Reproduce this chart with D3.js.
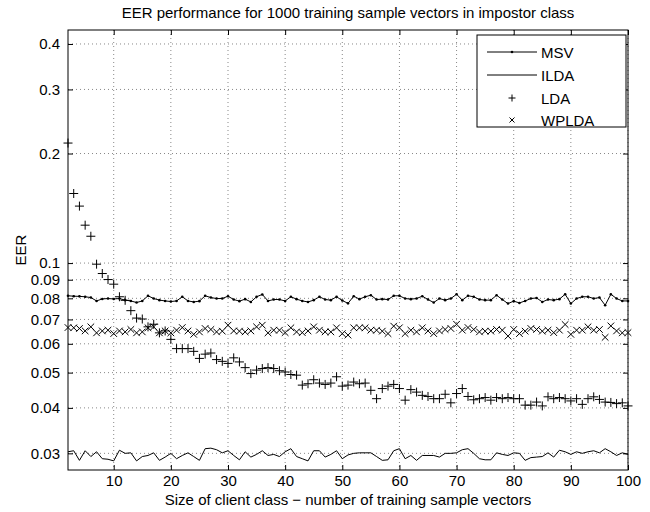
<!DOCTYPE html>
<html>
<head>
<meta charset="utf-8">
<script src="https://cdn.jsdelivr.net/npm/d3@7"></script>
<style>
  body { margin: 0; background: #fff; }
  svg text { font-family: "Liberation Sans", Arial, Helvetica, sans-serif; }
</style>
</head>
<body>
<div id="chart"></div>
<script>
// client class sizes (x) and EER per method
const sizes = d3.range(2, 101);

const msv = [
  0.0813, 0.0811, 0.0810, 0.0808, 0.0804, 0.0787, 0.0797, 0.0799, 0.0797, 0.0799,
  0.0791, 0.0787, 0.0779, 0.0787, 0.0813, 0.0799, 0.0791, 0.0787, 0.0784, 0.0787,
  0.0808, 0.0787, 0.0782, 0.0786, 0.0813, 0.0804, 0.0799, 0.0799, 0.0811, 0.0794,
  0.0786, 0.0796, 0.0782, 0.0808, 0.0820, 0.0787, 0.0794, 0.0794, 0.0787, 0.0808,
  0.0796, 0.0787, 0.0782, 0.0791, 0.0808, 0.0794, 0.0791, 0.0808, 0.0789, 0.0775,
  0.0811, 0.0796, 0.0808, 0.0816, 0.0794, 0.0796, 0.0794, 0.0813, 0.0813, 0.0799,
  0.0796, 0.0799, 0.0811, 0.0794, 0.0779, 0.0799, 0.0791, 0.0799, 0.0821, 0.0791,
  0.0813, 0.0808, 0.0794, 0.0791, 0.0791, 0.0816, 0.0794, 0.0774, 0.0786, 0.0777,
  0.0787, 0.0799, 0.0802, 0.0782, 0.0794, 0.0791, 0.0796, 0.0821, 0.0774, 0.0799,
  0.0808, 0.0808, 0.0799, 0.0804, 0.0766, 0.0821, 0.0799, 0.0787, 0.0787
];

const ilda = [
  0.0303, 0.0305, 0.0287, 0.0305, 0.0294, 0.0303, 0.0290, 0.0289, 0.0286, 0.0306,
  0.0300, 0.0301, 0.0286, 0.0294, 0.0296, 0.0301, 0.0287, 0.0293, 0.0300, 0.0290,
  0.0296, 0.0301, 0.0294, 0.0287, 0.0309, 0.0310, 0.0307, 0.0301, 0.0305, 0.0296,
  0.0288, 0.0303, 0.0293, 0.0298, 0.0305, 0.0296, 0.0298, 0.0294, 0.0303, 0.0309,
  0.0294, 0.0290, 0.0286, 0.0305, 0.0305, 0.0293, 0.0298, 0.0305, 0.0290, 0.0297,
  0.0300, 0.0301, 0.0301, 0.0301, 0.0294, 0.0287, 0.0288, 0.0305, 0.0309, 0.0290,
  0.0296, 0.0287, 0.0296, 0.0296, 0.0296, 0.0293, 0.0300, 0.0300, 0.0301, 0.0307,
  0.0309, 0.0300, 0.0290, 0.0288, 0.0288, 0.0301, 0.0298, 0.0296, 0.0301, 0.0300,
  0.0287, 0.0292, 0.0293, 0.0294, 0.0301, 0.0293, 0.0306, 0.0303, 0.0298, 0.0303,
  0.0300, 0.0303, 0.0305, 0.0301, 0.0309, 0.0303, 0.0296, 0.0301, 0.0298
];

const lda = [
  0.2137, 0.1553, 0.1434, 0.1271, 0.1185, 0.0993, 0.0936, 0.0901, 0.0875, 0.0808,
  0.0790, 0.0740, 0.0706, 0.0702, 0.0668, 0.0679, 0.0643, 0.0651, 0.0617, 0.0582,
  0.0582, 0.0582, 0.0572, 0.0547, 0.0562, 0.0566, 0.0543, 0.0537, 0.0530, 0.0549,
  0.0535, 0.0516, 0.0497, 0.0508, 0.0513, 0.0516, 0.0513, 0.0506, 0.0502, 0.0494,
  0.0492, 0.0462, 0.0466, 0.0478, 0.0468, 0.0464, 0.0468, 0.0487, 0.0459, 0.0462,
  0.0471, 0.0466, 0.0468, 0.0447, 0.0424, 0.0452, 0.0459, 0.0464, 0.0452, 0.0420,
  0.0449, 0.0442, 0.0433, 0.0430, 0.0424, 0.0424, 0.0436, 0.0413, 0.0438, 0.0452,
  0.0430, 0.0421, 0.0424, 0.0427, 0.0420, 0.0427, 0.0424, 0.0427, 0.0424, 0.0424,
  0.0407, 0.0407, 0.0415, 0.0405, 0.0429, 0.0424, 0.0427, 0.0424, 0.0418, 0.0424,
  0.0409, 0.0424, 0.0429, 0.0422, 0.0415, 0.0414, 0.0411, 0.0413, 0.0405
];

const wplda = [
  0.0665, 0.0664, 0.0661, 0.0651, 0.0668, 0.0643, 0.0651, 0.0654, 0.0640, 0.0651,
  0.0647, 0.0657, 0.0643, 0.0647, 0.0664, 0.0668, 0.0643, 0.0651, 0.0643, 0.0654,
  0.0665, 0.0651, 0.0637, 0.0647, 0.0661, 0.0657, 0.0647, 0.0650, 0.0675, 0.0651,
  0.0650, 0.0647, 0.0651, 0.0668, 0.0675, 0.0643, 0.0654, 0.0654, 0.0644, 0.0664,
  0.0647, 0.0644, 0.0651, 0.0668, 0.0654, 0.0647, 0.0647, 0.0664, 0.0640, 0.0634,
  0.0664, 0.0664, 0.0664, 0.0654, 0.0654, 0.0650, 0.0640, 0.0671, 0.0664, 0.0640,
  0.0654, 0.0647, 0.0664, 0.0651, 0.0640, 0.0651, 0.0657, 0.0661, 0.0679, 0.0654,
  0.0665, 0.0657, 0.0647, 0.0650, 0.0650, 0.0657, 0.0654, 0.0630, 0.0657, 0.0640,
  0.0650, 0.0661, 0.0657, 0.0650, 0.0654, 0.0644, 0.0654, 0.0678, 0.0637, 0.0654,
  0.0654, 0.0668, 0.0654, 0.0657, 0.0625, 0.0672, 0.0651, 0.0643, 0.0644
];

const xTicks = [10, 20, 30, 40, 50, 60, 70, 80, 90, 100];
const yTicks = [0.03, 0.04, 0.05, 0.06, 0.07, 0.08, 0.09, 0.1, 0.2, 0.3, 0.4];
const legendNames = ["MSV", "ILDA", "LDA", "WPLDA"];

const width = 650, height = 512;
const plotL = 68, plotR = 628, plotT = 30, plotB = 470;

const svg = d3.select("#chart").append("svg")
  .attr("width", width)
  .attr("height", height);

const x = d3.scaleLinear().domain([2, 100]).range([plotL, plotR]);
const y = d3.scaleLog().domain([0.027, 0.437]).range([plotB, plotT]);

// dotted grid
svg.append("g")
  .selectAll("line")
  .data(xTicks)
  .enter()
  .append("line")
  .attr("x1", d => x(d)).attr("x2", d => x(d))
  .attr("y1", plotT).attr("y2", plotB)
  .attr("stroke", "#888")
  .attr("stroke-dasharray", "1,3");

svg.append("g")
  .selectAll("line")
  .data(yTicks)
  .enter()
  .append("line")
  .attr("x1", plotL).attr("x2", plotR)
  .attr("y1", d => y(d)).attr("y2", d => y(d))
  .attr("stroke", "#888")
  .attr("stroke-dasharray", "1,3");

// axes, ticks pointing inwards on every side
const fmt = d => String(d);
svg.append("g")
  .attr("transform", "translate(0," + plotB + ")")
  .call(d3.axisBottom(x).tickValues(xTicks).tickSize(-5).tickPadding(5).tickFormat(fmt));
svg.append("g")
  .attr("transform", "translate(0," + plotT + ")")
  .call(d3.axisTop(x).tickValues(xTicks).tickSize(-5).tickFormat(""));
svg.append("g")
  .attr("transform", "translate(" + plotL + ",0)")
  .call(d3.axisLeft(y).tickValues(yTicks).tickSize(-5).tickPadding(8).tickFormat(fmt));
svg.append("g")
  .attr("transform", "translate(" + plotR + ",0)")
  .call(d3.axisRight(y).tickValues(yTicks).tickSize(-5).tickFormat(""));

svg.selectAll(".domain").remove();
svg.selectAll(".tick line").attr("stroke", "#000");
svg.selectAll(".tick text").attr("font-size", 15).attr("fill", "#000")
  .style("font-family", "'Liberation Sans', Arial, sans-serif");

svg.append("rect")
  .attr("x", plotL).attr("y", plotT)
  .attr("width", plotR - plotL).attr("height", plotB - plotT)
  .attr("fill", "none")
  .attr("stroke", "#000")
  .attr("stroke-width", 1);

const line = d3.line()
  .x((d, i) => x(sizes[i]))
  .y(d => y(d));

// ILDA: plain line
svg.append("path")
  .datum(ilda)
  .attr("fill", "none")
  .attr("stroke", "#000")
  .attr("stroke-width", 1)
  .attr("d", line);

// MSV: line with point markers
svg.append("path")
  .datum(msv)
  .attr("fill", "none")
  .attr("stroke", "#000")
  .attr("stroke-width", 1)
  .attr("d", line);
svg.append("g")
  .selectAll("circle")
  .data(msv)
  .enter()
  .append("circle")
  .attr("cx", (d, i) => x(sizes[i]))
  .attr("cy", d => y(d))
  .attr("r", 1.3)
  .attr("fill", "#000");

function plusPath(s) {
  return "M" + (-s) + ",0H" + s + "M0," + (-s) + "V" + s;
}
function crossPath(s) {
  return "M" + (-s) + "," + (-s) + "L" + s + "," + s + "M" + (-s) + "," + s + "L" + s + "," + (-s);
}

// LDA: plus markers
svg.append("g")
  .selectAll("path")
  .data(lda)
  .enter()
  .append("path")
  .attr("transform", (d, i) => "translate(" + x(sizes[i]) + "," + y(d) + ")")
  .attr("d", plusPath(4.5))
  .attr("stroke", "#000")
  .attr("fill", "none");

// WPLDA: x markers
svg.append("g")
  .selectAll("path")
  .data(wplda)
  .enter()
  .append("path")
  .attr("transform", (d, i) => "translate(" + x(sizes[i]) + "," + y(d) + ")")
  .attr("d", crossPath(3.3))
  .attr("stroke", "#000")
  .attr("fill", "none");

// title and labels
svg.append("text")
  .attr("x", (plotL + plotR) / 2).attr("y", 18)
  .attr("text-anchor", "middle")
  .attr("font-size", 15)
  .text("EER performance for 1000 training sample vectors in impostor class");

svg.append("text")
  .attr("x", (plotL + plotR) / 2).attr("y", 505)
  .attr("text-anchor", "middle")
  .attr("font-size", 15)
  .text("Size of client class \u2212 number of training sample vectors");

svg.append("text")
  .attr("transform", "translate(26," + (plotT + plotB) / 2 + ") rotate(-90)")
  .attr("text-anchor", "middle")
  .attr("font-size", 15)
  .text("EER");

// legend
const legend = svg.append("g");
legend.append("rect")
  .attr("x", 477).attr("y", 35)
  .attr("width", 149).attr("height", 92)
  .attr("fill", "#fff")
  .attr("stroke", "#000");

const rowY = [52, 75, 98, 120];
legendNames.forEach((name, i) => {
  const g = legend.append("g").attr("transform", "translate(0," + rowY[i] + ")");
  if (i < 2) {
    g.append("line").attr("x1", 487).attr("x2", 537).attr("y1", 0).attr("y2", 0)
      .attr("stroke", "#000");
  }
  if (i === 0) g.append("circle").attr("cx", 512).attr("cy", 0).attr("r", 1.3).attr("fill", "#000");
  if (i === 2) g.append("path").attr("transform", "translate(512,0)").attr("d", plusPath(3.5)).attr("stroke", "#000");
  if (i === 3) g.append("path").attr("transform", "translate(512,0)").attr("d", crossPath(2.5)).attr("stroke", "#000");
  g.append("text").attr("x", 541).attr("y", 5.5).attr("font-size", 15).text(name);
});
</script>
</body>
</html>
